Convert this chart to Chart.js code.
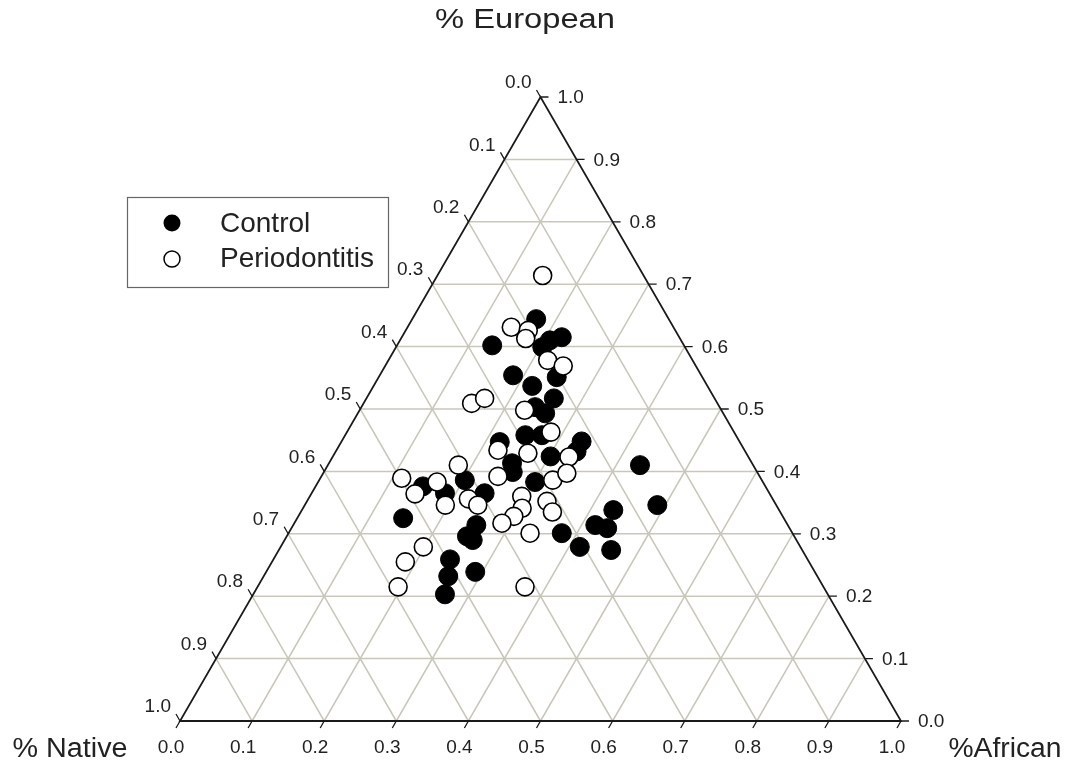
<!DOCTYPE html>
<html>
<head>
<meta charset="utf-8">
<script src="https://cdn.jsdelivr.net/npm/chart.js@4/dist/chart.umd.min.js"></script>
<style>
  body { margin: 0; background: #fff; }
  #wrap { width: 1068px; height: 766px; position: relative; }
</style>
</head>
<body>
<div id="wrap"><canvas id="ternary"></canvas></div>
<script>
// ternary values: fraction African and fraction European (Native = rest)
const controlAfrican = [0.172, 0.222, 0.208, 0.203, 0.132, 0.185, 0.247, 0.220, 0.260, 0.241,
  0.260, 0.250, 0.273, 0.220, 0.333, 0.334, 0.302, 0.254, 0.262, 0.301,
  0.202, 0.149, 0.185, 0.240, 0.147, 0.254, 0.250, 0.261, 0.245, 0.256,
  0.266, 0.290, 0.433, 0.489, 0.432, 0.419, 0.438, 0.379, 0.415, 0.461];
const controlEuropean = [0.644, 0.615, 0.610, 0.599, 0.602, 0.554, 0.551, 0.537, 0.517, 0.503,
  0.493, 0.458, 0.458, 0.447, 0.448, 0.432, 0.424, 0.413, 0.399, 0.383,
  0.386, 0.376, 0.365, 0.365, 0.325, 0.314, 0.296, 0.290, 0.259, 0.232,
  0.203, 0.239, 0.410, 0.346, 0.338, 0.314, 0.309, 0.301, 0.279, 0.274];

const periodAfrican = [0.146, 0.144, 0.170, 0.173, 0.221, 0.247, 0.150, 0.164, 0.229, 0.283,
  0.224, 0.268, 0.328, 0.181, 0.113, 0.165, 0.144, 0.195, 0.222, 0.240,
  0.245, 0.324, 0.338, 0.294, 0.304, 0.299, 0.288, 0.333, 0.349, 0.335,
  0.198, 0.185, 0.195, 0.371];
const periodEuropean = [0.714, 0.631, 0.626, 0.613, 0.578, 0.569, 0.509, 0.517, 0.498, 0.463,
  0.434, 0.429, 0.423, 0.410, 0.389, 0.383, 0.364, 0.346, 0.356, 0.346,
  0.392, 0.386, 0.397, 0.360, 0.341, 0.328, 0.317, 0.352, 0.335, 0.301,
  0.279, 0.255, 0.215, 0.215];

const tickLabels = ['0.0', '0.1', '0.2', '0.3', '0.4', '0.5', '0.6', '0.7', '0.8', '0.9', '1.0'];
const seriesNames = ['Control', 'Periodontitis'];
const axisTitles = ['% European', '% Native', '%African'];

const H = Math.sqrt(3) / 2;
const FONT = '"Liberation Sans", Arial, Helvetica, sans-serif';

function toXY(a, e) {
  return { x: a + e / 2, y: e * H };
}

const controlPts = controlAfrican.map((a, i) => toXY(a, controlEuropean[i]));
const periodPts = periodAfrican.map((a, i) => toXY(a, periodEuropean[i]));

// text squeezed/stretched to the width it has in the reference
function fitText(ctx, txt, cx, cy, w) {
  const m = ctx.measureText(txt).width;
  ctx.save();
  ctx.translate(cx, cy);
  ctx.scale(w / m, 1);
  ctx.textAlign = 'center';
  ctx.fillText(txt, 0, 0);
  ctx.restore();
}

const ternaryFrame = {
  id: 'ternaryFrame',
  beforeDatasetsDraw(chart) {
    const { ctx, scales: { x, y } } = chart;
    const P = (a, e) => [x.getPixelForValue(a + e / 2), y.getPixelForValue(e * H)];
    const seg = (p, q) => { ctx.moveTo(p[0], p[1]); ctx.lineTo(q[0], q[1]); };

    ctx.save();
    // grid
    ctx.strokeStyle = '#c9c7ba';
    ctx.lineWidth = 1.5;
    ctx.beginPath();
    for (let i = 1; i < 10; i++) {
      const v = i / 10;
      seg(P(0, v), P(1 - v, v));       // European const
      seg(P(v, 0), P(v, 1 - v));       // African const
      seg(P(1 - v, 0), P(0, 1 - v));   // Native const
    }
    ctx.stroke();

    // edges
    ctx.strokeStyle = '#1a1a1a';
    ctx.lineWidth = 1.8;
    ctx.beginPath();
    const A = P(0, 0), B = P(1, 0), C = P(0, 1);
    ctx.moveTo(A[0], A[1]); ctx.lineTo(B[0], B[1]); ctx.lineTo(C[0], C[1]); ctx.closePath();
    ctx.stroke();

    // ticks + labels
    ctx.lineWidth = 1.3;
    ctx.fillStyle = '#222';
    ctx.font = '19px ' + FONT;
    ctx.textBaseline = 'middle';
    ctx.beginPath();
    tickLabels.forEach((lab, i) => {
      const v = i / 10;
      const b = P(v, 0);
      seg(b, [b[0] - 4, b[1] + 7]);
      const r = P(1 - v, v);
      seg(r, [r[0] + 8, r[1]]);
      const l = P(0, 1 - v);
      seg(l, [l[0] - 4, l[1] - 7]);
    });
    ctx.stroke();
    tickLabels.forEach((lab, i) => {
      const v = i / 10;
      const b = P(v, 0);
      ctx.textAlign = 'center';
      ctx.fillText(lab, b[0] - 9, b[1] + 27);
      const r = P(1 - v, v);
      ctx.textAlign = 'left';
      ctx.fillText(lab, r[0] + 17, r[1] + 1);
      const l = P(0, 1 - v);
      ctx.textAlign = 'right';
      ctx.fillText(lab, l[0] - 9, l[1] - 14);
    });
    ctx.restore();
  },
  afterDraw(chart) {
    const { ctx } = chart;
    ctx.save();
    ctx.fillStyle = '#222';
    ctx.font = '27px ' + FONT;
    ctx.textBaseline = 'middle';
    fitText(ctx, axisTitles[0], 525, 21, 180);
    fitText(ctx, axisTitles[1], 70, 750, 115);
    fitText(ctx, axisTitles[2], 1005, 750, 113);

    // legend box
    ctx.strokeStyle = '#666';
    ctx.lineWidth = 1.2;
    ctx.strokeRect(127.5, 197.5, 261, 90);
    ctx.beginPath();
    ctx.arc(172, 223, 8.5, 0, Math.PI * 2);
    ctx.fillStyle = '#000';
    ctx.fill();
    ctx.beginPath();
    ctx.arc(172, 259, 8, 0, Math.PI * 2);
    ctx.fillStyle = '#fff';
    ctx.fill();
    ctx.strokeStyle = '#000';
    ctx.lineWidth = 1.5;
    ctx.stroke();
    ctx.fillStyle = '#222';
    ctx.textAlign = 'left';
    ctx.font = '28px ' + FONT;
    ctx.fillText(seriesNames[0], 220, 224);
    ctx.fillText(seriesNames[1], 220, 259);
    ctx.restore();
  }
};

new Chart(document.getElementById('ternary'), {
  type: 'scatter',
  data: {
    datasets: [
      {
        label: seriesNames[0],
        data: controlPts,
        pointRadius: 9.5,
        pointBackgroundColor: '#000',
        pointBorderColor: '#000',
        pointBorderWidth: 1,
        order: 2,
        clip: false
      },
      {
        label: seriesNames[1],
        data: periodPts,
        pointRadius: 9,
        pointBackgroundColor: '#fff',
        pointBorderColor: '#000',
        pointBorderWidth: 1.6,
        order: 1,
        clip: false
      }
    ]
  },
  options: {
    responsive: true,
    maintainAspectRatio: false,
    animation: false,
    layout: { padding: { left: 180, right: 167, top: 97, bottom: 45 } },
    plugins: { legend: { display: false }, tooltip: { enabled: false } },
    scales: {
      x: { type: 'linear', min: 0, max: 1, display: false },
      y: { type: 'linear', min: 0, max: H, display: false }
    }
  },
  plugins: [ternaryFrame]
});
</script>
</body>
</html>
